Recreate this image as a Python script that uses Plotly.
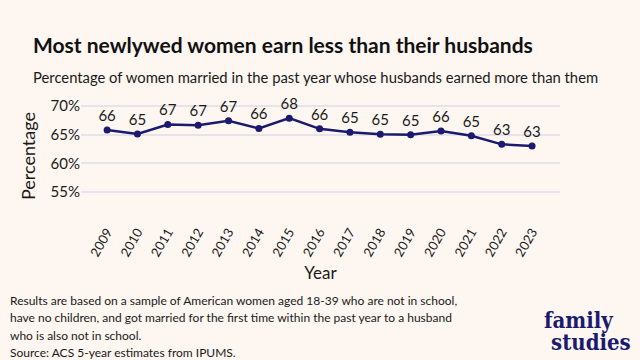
import plotly.graph_objects as go

years = [2009, 2010, 2011, 2012, 2013, 2014, 2015, 2016, 2017, 2018, 2019, 2020, 2021, 2022, 2023]
pct = [65.8, 65.1, 66.75, 66.6, 67.4, 66.05, 67.85, 66.0, 65.4, 65.05, 64.95, 65.6, 64.8, 63.3, 63.0]
labels = [str(int(round(v))) for v in pct]
y_ticks = [55, 60, 65, 70]
y_tick_text = ["55%", "60%", "65%", "70%"]

BG = "#FDF6F1"
NAVY = "#1B1A6E"
TXT = "#1a1a1a"
FONT = "Lato"

W, H = 640, 360
ML, MR, MT, MB = 81, 80, 100, 139

fig = go.Figure()
fig.add_trace(go.Scatter(
    x=years, y=pct, mode="lines+markers+text",
    text=labels, textposition="top center",
    textfont=dict(family=FONT, size=15, color=TXT),
    line=dict(color=NAVY, width=2.5),
    marker=dict(color=NAVY, size=7),
    cliponaxis=False, hoverinfo="skip", showlegend=False,
))

fig.update_layout(
    width=W, height=H, autosize=False,
    paper_bgcolor=BG, plot_bgcolor=BG,
    margin=dict(l=ML, r=MR, t=MT, b=MB, autoexpand=False),
    font=dict(family=FONT, color=TXT),
    xaxis=dict(
        range=[2008.14, 2023.92], tickmode="array", tickvals=years,
        ticktext=[str(y) for y in years], tickangle=-60,
        tickfont=dict(family=FONT, size=13, color=TXT),
        showgrid=False, zeroline=False, showline=False, ticks="", automargin=False,
        title=dict(text="Year", font=dict(family=FONT, size=17, color=TXT), standoff=8),
    ),
    yaxis=dict(
        range=[50, 71], tickmode="array", tickvals=y_ticks, ticktext=y_tick_text,
        tickfont=dict(family=FONT, size=15, color=TXT),
        showgrid=True, gridcolor="#E6E4EA", gridwidth=1.5, zeroline=False, showline=False,
        ticks="", automargin=False,
    ),
)

PW, PH = W - ML - MR, H - MT - MB

def px2paper(x, y):
    return (x - ML) / PW, (H - MB - y) / PH

def ann(text, x, y, size, bold=False, color=TXT, family=FONT, xanchor="left", yanchor="middle",
        align="left", angle=0):
    px, py = px2paper(x, y)
    fig.add_annotation(
        text=f"<b>{text}</b>" if bold else text,
        x=px, y=py, xref="paper", yref="paper",
        xanchor=xanchor, yanchor=yanchor, showarrow=False, textangle=angle,
        font=dict(family=family, size=size, color=color), align=align,
    )

ann("Most newlywed women earn less than their husbands", 31, 45, 21, bold=True, color="#111111")
ann("Percentage of women married in the past year whose husbands earned more than them", 31, 77, 14.8)
ann("Percentage", 28, 156, 18, xanchor="center", angle=-90)

foot = [
    "Results are based on a sample of American women aged 18-39 who are not in school,",
    "have no children, and got married for the first time within the past year to a husband",
    "who is also not in school.",
    "Source: ACS 5-year estimates from IPUMS.",
]
for i, line in enumerate(foot):
    ann(line, 8, 300 + i * 17.5, 12)

ann("<b>family</b>", 542, 320, 22, color=NAVY, family="DejaVu Serif Condensed")
ann("<b>studies</b>", 633, 342, 22, color=NAVY, family="DejaVu Serif Condensed", xanchor="right")

fig.write_html("out.html", post_script="document.body.style.margin='0px';",
               config={"displayModeBar": False})
